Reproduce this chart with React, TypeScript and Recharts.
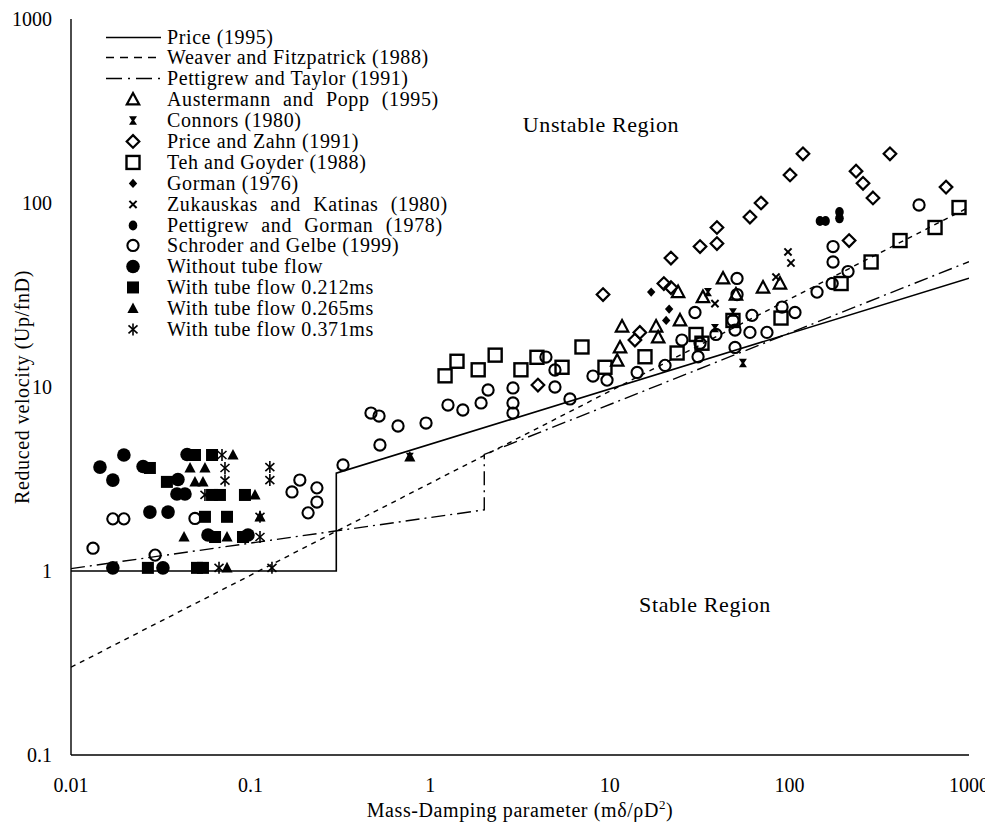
import React from 'react';
import { ComposedChart, Line, Scatter, XAxis, YAxis, Legend } from 'recharts';

type Pt = { x: number; y: number };
const toPts = (a: number[][]): Pt[] => a.map(([x, y]) => ({ x, y }));

const xTicks = [0.01, 0.1, 1, 10, 100, 1000];
const yTicks = [0.1, 1, 10, 100, 1000];

// Design curves
const price1995 = toPts([[0.01, 1], [0.3, 1], [0.3, 3.4], [1000, 39]]);
const weaverFitzpatrick1988 = toPts([[0.01, 0.3], [1000, 94.9]]);
const pettigrewTaylor1991 = toPts([[0.01, 1.03], [2, 2.15], [2, 4.3], [1000, 48]]);

// Experimental data
const austermannPopp = toPts([[11.7, 21.3], [11.4, 16.4], [11.0, 13.9], [18.1, 21.3], [18.6, 18.6], [24.6, 23.0], [24.0, 32.8], [33.0, 30.8], [42.7, 38.9], [50.4, 31.8], [71.3, 34.7], [88.6, 36.5]]);
const connors = toPts([[38.5, 20.9], [48.5, 25.4], [35.2, 32.8], [55.1, 13.5], [0.77, 4.17]]);
const priceZahn = toPts([[9.17, 31.8], [3.98, 10.25], [13.8, 18.0], [14.7, 19.8], [20.0, 36.5], [21.9, 34.7], [21.9, 50.2], [31.8, 58.0], [39.5, 60.2], [39.5, 73.6], [60.3, 83.9], [69.5, 100], [100.8, 142], [119, 185], [215, 62.5], [235, 149], [257, 128], [292, 106.5], [363, 185], [745, 122]]);
const tehGoyder = toPts([[1.21, 11.5], [1.41, 13.8], [1.85, 12.4], [2.3, 14.9], [3.2, 12.4], [3.93, 14.5], [5.42, 12.8], [7.0, 16.5], [9.4, 12.8], [15.7, 14.6], [23.7, 15.3], [30.2, 19.3], [32.6, 17.3], [48.5, 23.0], [89.8, 23.7], [194, 36.5], [285, 47.8], [413, 62.5], [647, 73.6], [880, 94.5]]);
const gorman = toPts([[17.0, 32.8], [21.4, 26.5], [20.6, 23.0]]);
const zukauskasKatinas = toPts([[38.5, 28.4], [84.2, 39.6], [98.2, 54.2], [102, 47.2]]);
const pettigrewGorman = toPts([[148, 79.8], [159, 79.8], [190, 89.4], [190, 82.5]]);
const schroderGelbe = toPts([
  [0.01326, 1.33], [0.0171, 1.92], [0.0197, 1.92], [0.0294, 1.22], [0.049, 1.93], [0.188, 3.12], [0.17, 2.69], [0.234, 2.83], [0.234, 2.37], [0.209, 2.07], [0.327, 3.77],
  [0.468, 7.22], [0.519, 6.95], [0.662, 6.14], [0.948, 6.37], [0.525, 4.84], [1.256, 7.98], [1.52, 7.5], [1.92, 8.19], [2.1, 9.63], [2.89, 9.88], [2.89, 8.19], [2.89, 7.22], [4.41, 14.55], [4.95, 12.37], [4.95, 10.0], [6.0, 8.61], [8.06, 11.47], [9.65, 10.9],
  [14.2, 12.0], [20.3, 13.1], [25.2, 18.0], [31.0, 14.6], [29.8, 25.4], [31.8, 17.3], [39.0, 19.3], [51.1, 38.9], [51.1, 31.8], [49.8, 16.4], [48.5, 23.0], [49.8, 20.4], [60.3, 19.8], [75.0, 19.8], [61.9, 24.5], [91.0, 27.2], [107.4, 25.4], [142.5, 32.8], [173, 36.5], [212, 42.4], [175, 47.8], [175, 58.0], [527, 97.5],
]);
const withoutTubeFlow = toPts([[0.0145, 3.67], [0.0197, 4.27], [0.0171, 3.12], [0.0252, 3.7], [0.0443, 4.3], [0.0394, 3.14], [0.0389, 2.62], [0.0431, 2.62], [0.0275, 2.09], [0.0347, 2.09], [0.0579, 1.57], [0.0967, 1.57], [0.0171, 1.04], [0.0325, 1.04]]);
const tubeFlow0212 = toPts([[0.049, 4.27], [0.061, 4.27], [0.0275, 3.63], [0.0342, 3.05], [0.061, 2.59], [0.0675, 2.59], [0.093, 2.59], [0.0557, 1.97], [0.0739, 1.97], [0.0634, 1.53], [0.0907, 1.53], [0.0268, 1.04], [0.0503, 1.04], [0.0543, 1.04]]);
const tubeFlow0265 = toPts([[0.0798, 4.27], [0.046, 3.63], [0.0557, 3.63], [0.049, 3.05], [0.0543, 3.05], [0.1058, 2.59], [0.1128, 1.97], [0.0426, 1.53], [0.0739, 1.53], [0.0739, 1.04], [0.77, 4.17]]);
const tubeFlow0371 = toPts([[0.0693, 4.27], [0.072, 3.63], [0.072, 3.1], [0.128, 3.67], [0.128, 3.12], [0.0557, 2.59], [0.1128, 1.97], [0.1128, 1.53], [0.0667, 1.04], [0.1315, 1.04]]);

const FONT = '"Liberation Serif", "Times New Roman", serif';
const K = '#000';

type SP = { cx?: number; cy?: number };
const OpenCircle = ({ cx = 0, cy = 0 }: SP) => <circle cx={cx} cy={cy} r={5.6} fill="none" stroke={K} strokeWidth={2.1} />;
const FilledCircle = ({ cx = 0, cy = 0 }: SP) => <circle cx={cx} cy={cy} r={6.8} fill={K} />;
const OpenSquare = ({ cx = 0, cy = 0 }: SP) => <rect x={cx - 6.5} y={cy - 6.5} width={13} height={13} fill="none" stroke={K} strokeWidth={2.4} />;
const FilledSquare = ({ cx = 0, cy = 0 }: SP) => <rect x={cx - 6} y={cy - 6} width={12} height={12} fill={K} />;
const OpenDiamond = ({ cx = 0, cy = 0 }: SP) => (
  <polygon points={`${cx},${cy - 6.3} ${cx + 6.3},${cy} ${cx},${cy + 6.3} ${cx - 6.3},${cy}`} fill="none" stroke={K} strokeWidth={2.2} />
);
const OpenTriangle = ({ cx = 0, cy = 0 }: SP) => (
  <polygon points={`${cx},${cy - 6.5} ${cx + 6.2},${cy + 5} ${cx - 6.2},${cy + 5}`} fill="none" stroke={K} strokeWidth={2.2} strokeLinejoin="miter" />
);
const FilledTriangle = ({ cx = 0, cy = 0 }: SP) => (
  <polygon points={`${cx},${cy - 6} ${cx + 5.6},${cy + 4.6} ${cx - 5.6},${cy + 4.6}`} fill={K} />
);
const SmallDiamond = ({ cx = 0, cy = 0 }: SP) => (
  <polygon points={`${cx},${cy - 4.6} ${cx + 4.2},${cy} ${cx},${cy + 4.6} ${cx - 4.2},${cy}`} fill={K} />
);
const XMark = ({ cx = 0, cy = 0 }: SP) => (
  <g stroke={K} strokeWidth={2}>
    <line x1={cx - 3.6} y1={cy - 3.6} x2={cx + 3.6} y2={cy + 3.6} />
    <line x1={cx - 3.6} y1={cy + 3.6} x2={cx + 3.6} y2={cy - 3.6} />
  </g>
);
const SmallDot = ({ cx = 0, cy = 0 }: SP) => <ellipse cx={cx} cy={cy} rx={4.3} ry={5} fill={K} />;
const Hourglass = ({ cx = 0, cy = 0 }: SP) => (
  <polygon points={`${cx - 4},${cy - 4.2} ${cx + 4},${cy - 4.2} ${cx + 1.2},${cy} ${cx + 4},${cy + 4.2} ${cx - 4},${cy + 4.2} ${cx - 1.2},${cy}`} fill={K} />
);
const Asterisk = ({ cx = 0, cy = 0 }: SP) => (
  <g stroke={K} strokeWidth={1.6}>
    <line x1={cx} y1={cy - 6} x2={cx} y2={cy + 6} />
    <line x1={cx - 4.5} y1={cy - 4} x2={cx + 4.5} y2={cy + 4} />
    <line x1={cx - 4.5} y1={cy + 4} x2={cx + 4.5} y2={cy - 4} />
  </g>
);

type LegendItem = { label: string; kind: 'line' | 'mark'; dash?: string; Mark?: (p: SP) => React.ReactElement; spread?: boolean };
const legendItems: LegendItem[] = [
  { label: 'Price (1995)', kind: 'line' },
  { label: 'Weaver and Fitzpatrick (1988)', kind: 'line', dash: '8 6' },
  { label: 'Pettigrew and Taylor (1991)', kind: 'line', dash: '16 6 2 6' },
  { label: 'Austermann and Popp (1995)', kind: 'mark', Mark: OpenTriangle, spread: true },
  { label: 'Connors (1980)', kind: 'mark', Mark: Hourglass },
  { label: 'Price and Zahn (1991)', kind: 'mark', Mark: OpenDiamond },
  { label: 'Teh and Goyder (1988)', kind: 'mark', Mark: OpenSquare },
  { label: 'Gorman (1976)', kind: 'mark', Mark: SmallDiamond },
  { label: 'Zukauskas and Katinas (1980)', kind: 'mark', Mark: XMark, spread: true },
  { label: 'Pettigrew and Gorman (1978)', kind: 'mark', Mark: SmallDot, spread: true },
  { label: 'Schroder and Gelbe (1999)', kind: 'mark', Mark: OpenCircle },
  { label: 'Without tube flow', kind: 'mark', Mark: FilledCircle },
  { label: 'With tube flow 0.212ms', kind: 'mark', Mark: FilledSquare },
  { label: 'With tube flow 0.265ms', kind: 'mark', Mark: FilledTriangle },
  { label: 'With tube flow 0.371ms', kind: 'mark', Mark: Asterisk },
];

const ROW = 20.9;
const renderLegend = () => (
  <div style={{ fontFamily: FONT, fontSize: 20, color: K, letterSpacing: 0.6 }}>
    {legendItems.map((it) => (
      <div key={it.label} style={{ display: 'flex', alignItems: 'center', height: ROW, whiteSpace: 'nowrap' }}>
        <svg width={61} height={ROW} style={{ display: 'block', flex: 'none' }}>
          {it.kind === 'line' ? (
            <line x1={0} y1={ROW / 2} x2={55} y2={ROW / 2} stroke={K} strokeWidth={1.5} strokeDasharray={it.dash} />
          ) : (
            it.Mark && <it.Mark cx={27} cy={ROW / 2} />
          )}
        </svg>
        <span style={{ lineHeight: `${ROW}px`, wordSpacing: it.spread ? 6.7 : 0 }}>{it.label}</span>
      </div>
    ))}
  </div>
);

const XTitle = (props: any) => {
  const vb = props.viewBox || { x: 63, y: 747, width: 898, height: 68 };
  const cx = vb.x + vb.width / 2;
  return (
    <text x={cx} y={vb.y + 62} textAnchor="middle" fontFamily={FONT} fontSize={20} fill={K} letterSpacing={0.6}>
      Mass-Damping parameter (mδ/ρD<tspan dy={-8} fontSize={13}>2</tspan><tspan dy={8}>)</tspan>
    </text>
  );
};

const YTitle = (props: any) => {
  const vb = props.viewBox || { x: 0, y: 11, width: 63, height: 736 };
  const cy = vb.y + vb.height / 2;
  const x = 21;
  return (
    <text x={x} y={cy} transform={`rotate(-90 ${x} ${cy})`} textAnchor="middle" fontFamily={FONT} fontSize={20} fill={K} letterSpacing={0.6}>
      Reduced velocity (Up/fnD)
    </text>
  );
};

const tickStyle = { fill: K, fontSize: 20, fontFamily: FONT };
const axisLine = { stroke: K, strokeWidth: 1.4 };

export default function App() {
  return (
    <div style={{ position: 'relative', width: 985, height: 815, background: '#fff' }}>
      <ComposedChart width={985} height={815} margin={{ top: 11, right: 24, bottom: 0, left: 0 }}>
        <XAxis
          dataKey="x"
          type="number"
          scale="log"
          domain={[0.01, 1000]}
          ticks={xTicks}
          interval={0}
          allowDataOverflow
          tickLine={false}
          tickSize={10}
          tickMargin={13}
          height={68}
          axisLine={axisLine}
          tick={tickStyle}
          tickFormatter={(v: number) => String(v)}
          label={XTitle}
        />
        <XAxis xAxisId="top" orientation="top" type="number" domain={[0, 1]} tick={false} tickLine={false} height={0} axisLine={axisLine} />
        <YAxis
          dataKey="y"
          type="number"
          scale="log"
          domain={[0.1, 1000]}
          ticks={yTicks}
          interval={0}
          allowDataOverflow
          tickLine={false}
          tickSize={10}
          tickMargin={9}
          width={63}
          axisLine={axisLine}
          tick={tickStyle}
          tickFormatter={(v: number) => String(v)}
          label={YTitle}
        />
        <YAxis yAxisId="right" orientation="right" type="number" domain={[0, 1]} tick={false} tickLine={false} width={0} axisLine={axisLine} />

        <Line data={price1995} dataKey="y" type="linear" stroke={K} strokeWidth={1.6} dot={false} activeDot={false} isAnimationActive={false} />
        <Line data={weaverFitzpatrick1988} dataKey="y" type="linear" stroke={K} strokeWidth={1.4} strokeDasharray="5 5" dot={false} activeDot={false} isAnimationActive={false} />
        <Line data={pettigrewTaylor1991} dataKey="y" type="linear" stroke={K} strokeWidth={1.4} strokeDasharray="14 5 2 5" dot={false} activeDot={false} isAnimationActive={false} />

        <Scatter data={schroderGelbe} dataKey="y" shape={(p: any) => <OpenCircle cx={p.cx} cy={p.cy} />} isAnimationActive={false} />
        <Scatter data={tehGoyder} dataKey="y" shape={(p: any) => <OpenSquare cx={p.cx} cy={p.cy} />} isAnimationActive={false} />
        <Scatter data={priceZahn} dataKey="y" shape={(p: any) => <OpenDiamond cx={p.cx} cy={p.cy} />} isAnimationActive={false} />
        <Scatter data={austermannPopp} dataKey="y" shape={(p: any) => <OpenTriangle cx={p.cx} cy={p.cy} />} isAnimationActive={false} />
        <Scatter data={gorman} dataKey="y" shape={(p: any) => <SmallDiamond cx={p.cx} cy={p.cy} />} isAnimationActive={false} />
        <Scatter data={zukauskasKatinas} dataKey="y" shape={(p: any) => <XMark cx={p.cx} cy={p.cy} />} isAnimationActive={false} />
        <Scatter data={pettigrewGorman} dataKey="y" shape={(p: any) => <SmallDot cx={p.cx} cy={p.cy} />} isAnimationActive={false} />
        <Scatter data={withoutTubeFlow} dataKey="y" shape={(p: any) => <FilledCircle cx={p.cx} cy={p.cy} />} isAnimationActive={false} />
        <Scatter data={tubeFlow0212} dataKey="y" shape={(p: any) => <FilledSquare cx={p.cx} cy={p.cy} />} isAnimationActive={false} />
        <Scatter data={tubeFlow0265} dataKey="y" shape={(p: any) => <FilledTriangle cx={p.cx} cy={p.cy} />} isAnimationActive={false} />
        <Scatter data={tubeFlow0371} dataKey="y" shape={(p: any) => <Asterisk cx={p.cx} cy={p.cy} />} isAnimationActive={false} />
        <Scatter data={connors} dataKey="y" shape={(p: any) => <Hourglass cx={p.cx} cy={p.cy} />} isAnimationActive={false} />

        <Legend
          layout="horizontal"
          align="center"
          verticalAlign="middle"
          wrapperStyle={{ left: 98, top: 18.5, width: 420, height: 315 }}
          content={renderLegend}
        />
      </ComposedChart>
      <div style={{ position: 'absolute', left: 593, top: 117, transform: 'translate(-50%, -50%)', fontFamily: FONT, fontSize: 22, letterSpacing: 0.6, whiteSpace: 'nowrap', color: K }}>
        Unstable Region
      </div>
      <div style={{ position: 'absolute', left: 697, top: 597, transform: 'translate(-50%, -50%)', fontFamily: FONT, fontSize: 22, letterSpacing: 0.6, whiteSpace: 'nowrap', color: K }}>
        Stable Region
      </div>
    </div>
  );
}
